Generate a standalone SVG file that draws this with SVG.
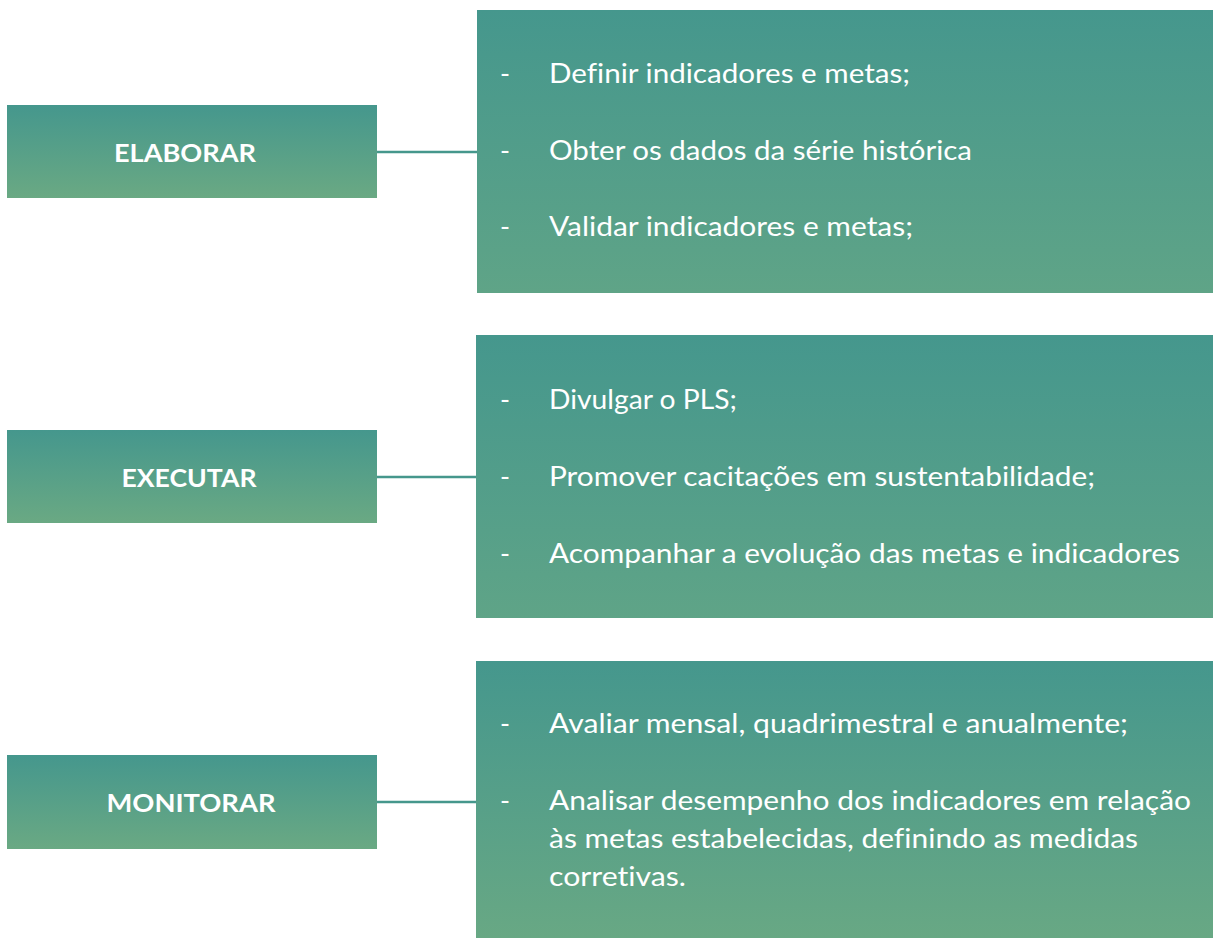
<svg xmlns="http://www.w3.org/2000/svg" width="1213" height="938" viewBox="0 0 1213 938">
<style>
.lbl{font-family:Lato,"Open Sans","Liberation Sans",sans-serif;font-weight:bold;font-size:25px;fill:#fff;text-anchor:middle}
.itm{font-family:Lato,"Open Sans","Liberation Sans",sans-serif;font-size:27px;fill:#fff;font-variant-ligatures:none}
.conn{stroke:#45978c;stroke-width:2.5;fill:none}
</style>
<defs>
<linearGradient id="gl" x1="0" y1="0" x2="0" y2="1">
<stop offset="0" stop-color="#45978d"/>
<stop offset="1" stop-color="#6aa983"/>
</linearGradient>
<linearGradient id="gr" x1="0" y1="0" x2="0" y2="1">
<stop offset="0" stop-color="#45978d"/>
<stop offset="1" stop-color="#5fa487"/>
</linearGradient>
<linearGradient id="gr3" x1="0" y1="0" x2="0" y2="1">
<stop offset="0" stop-color="#45978d"/>
<stop offset="1" stop-color="#68a884"/>
</linearGradient>
</defs>
<rect width="1213" height="938" fill="#fff"/>
<g id="connectors">
<line class="conn" x1="377" y1="152" x2="478" y2="152"/>
<line class="conn" x1="377" y1="477" x2="477" y2="477"/>
<line class="conn" x1="377" y1="802" x2="477" y2="802"/>
</g>
<g id="elaborar">
<rect x="7" y="105" width="370" height="93" fill="url(#gl)"/>
<text class="lbl" x="185" y="162" textLength="142" lengthAdjust="spacingAndGlyphs">ELABORAR</text>
</g>
<g id="elaborar-items">
<rect x="477" y="10" width="736" height="283" fill="url(#gr)"/>
<text class="itm" x="500" y="83">-</text>
<text class="itm" x="549" y="83" textLength="361" lengthAdjust="spacingAndGlyphs">Definir indicadores e metas;</text>
<text class="itm" x="500" y="160">-</text>
<text class="itm" x="549" y="160" textLength="423" lengthAdjust="spacingAndGlyphs">Obter os dados da série histórica</text>
<text class="itm" x="500" y="236">-</text>
<text class="itm" x="549" y="236" textLength="364" lengthAdjust="spacingAndGlyphs">Validar indicadores e metas;</text>
</g>
<g id="executar">
<rect x="7" y="430" width="370" height="93" fill="url(#gl)"/>
<text class="lbl" x="189" y="487" textLength="135" lengthAdjust="spacingAndGlyphs">EXECUTAR</text>
</g>
<g id="executar-items">
<rect x="476" y="335" width="737" height="283" fill="url(#gr)"/>
<text class="itm" x="500" y="409">-</text>
<text class="itm" x="549" y="409" textLength="188" lengthAdjust="spacingAndGlyphs">Divulgar o PLS;</text>
<text class="itm" x="500" y="486">-</text>
<text class="itm" x="549" y="486" textLength="546" lengthAdjust="spacingAndGlyphs">Promover cacitações em sustentabilidade;</text>
<text class="itm" x="500" y="563">-</text>
<text class="itm" x="549" y="563" textLength="631" lengthAdjust="spacingAndGlyphs">Acompanhar a evolução das metas e indicadores</text>
</g>
<g id="monitorar">
<rect x="7" y="755" width="370" height="94" fill="url(#gl)"/>
<text class="lbl" x="191" y="812" textLength="169" lengthAdjust="spacingAndGlyphs">MONITORAR</text>
</g>
<g id="monitorar-items">
<rect x="476" y="661" width="737" height="277" fill="url(#gr3)"/>
<text class="itm" x="500" y="733">-</text>
<text class="itm" x="549" y="733" textLength="579" lengthAdjust="spacingAndGlyphs">Avaliar mensal, quadrimestral e anualmente;</text>
<text class="itm" x="500" y="810">-</text>
<text class="itm" x="549" y="810" textLength="642" lengthAdjust="spacingAndGlyphs">Analisar desempenho dos indicadores em relação</text>
<text class="itm" x="549" y="848" textLength="589" lengthAdjust="spacingAndGlyphs">às metas estabelecidas, definindo as medidas</text>
<text class="itm" x="549" y="886" textLength="137" lengthAdjust="spacingAndGlyphs">corretivas.</text>
</g>
</svg>
